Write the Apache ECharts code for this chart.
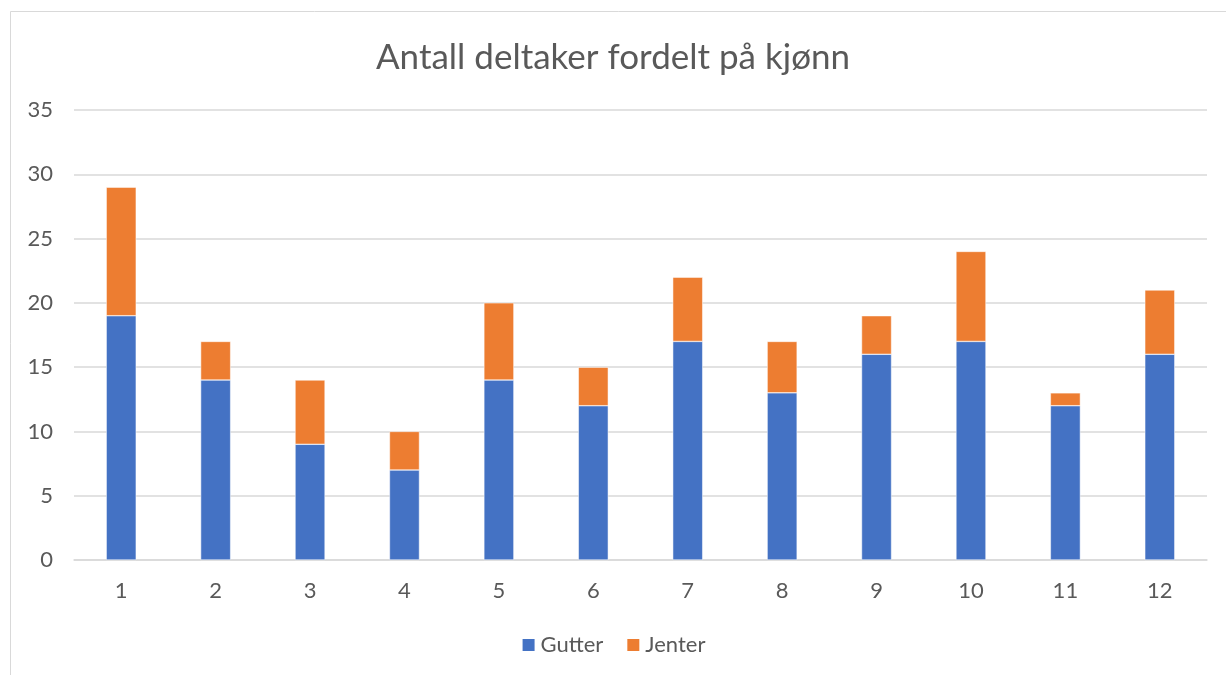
<!DOCTYPE html>
<html>
<head>
<meta charset="utf-8">
<script src="https://cdn.jsdelivr.net/npm/echarts@6/dist/echarts.min.js"></script>
<style>html,body{margin:0;padding:0;background:#fff;}#c{width:1226px;height:675px;}</style>
</head>
<body>
<div id="c"></div>
<script>
const categories = ['1','2','3','4','5','6','7','8','9','10','11','12'];
const gutter = [19,14,9,7,14,12,17,13,16,17,12,16];
const jenter = [10,3,5,3,6,3,5,4,3,7,1,5];
const titleText = 'Antall deltaker fordelt på kjønn';
const FONT = 'Lato';
const chart = echarts.init(document.getElementById('c'));
chart.setOption({
  animation: false,
  backgroundColor: '#fff',
  graphic: [{
    type: 'rect', shape: {x: 10.5, y: 11.5, width: 1300, height: 800},
    style: {fill: 'none', stroke: '#d9d9d9', lineWidth: 1}, z: -1
  }],
  title: {
    text: titleText, left: 'center', top: 35,
    textStyle: {fontFamily: FONT, fontSize: 35, fontWeight: 'normal', color: '#595959'}
  },
  legend: {
    bottom: 14, left: 'center', itemWidth: 14, itemHeight: 14, itemGap: 22, icon: 'rect',
    textStyle: {fontFamily: FONT, fontSize: 22, color: '#595959'},
    data: ['Gutter','Jenter']
  },
  grid: {left: 74, right: 19, top: 110, bottom: 115},
  xAxis: {
    type: 'category', data: categories,
    axisLine: {lineStyle: {color: '#d9d9d9', width: 1.5}},
    axisTick: {show: false},
    axisLabel: {fontFamily: FONT, fontSize: 22, color: '#595959', margin: 20}
  },
  yAxis: {
    type: 'value', min: 0, max: 35, interval: 5,
    axisLine: {show: false}, axisTick: {show: false},
    splitLine: {lineStyle: {color: '#d9d9d9', width: 1.5}},
    axisLabel: {fontFamily: FONT, fontSize: 22, color: '#595959', margin: 21}
  },
  series: [
    {name: 'Gutter', type: 'bar', stack: 't', data: gutter, barWidth: 30,
     itemStyle: {color: '#4472c4', borderColor: '#fff', borderWidth: 0.5}},
    {name: 'Jenter', type: 'bar', stack: 't', data: jenter, barWidth: 30,
     itemStyle: {color: '#ed7d31', borderColor: '#fff', borderWidth: 0.5}}
  ]
});
</script>
</body>
</html>
